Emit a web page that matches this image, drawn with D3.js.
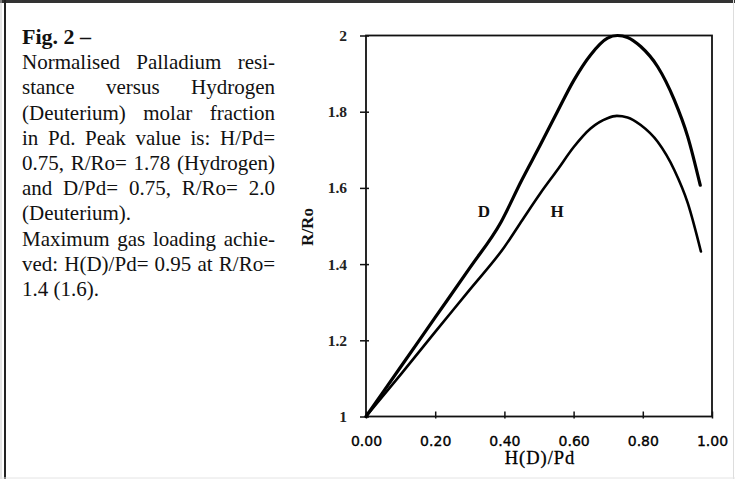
<!DOCTYPE html>
<html>
<head>
<meta charset="utf-8">
<script src="https://cdn.jsdelivr.net/npm/d3@7"></script>
<style>
  html, body { margin: 0; padding: 0; background: #fff; }
  svg { display: block; }
</style>
</head>
<body>
<svg id="fig" width="735" height="479"></svg>
<script>
// Normalised Pd resistance R/Ro versus loading H(D)/Pd
const deuteriumX = [0, 0.10, 0.20, 0.30, 0.39, 0.45, 0.504, 0.553, 0.601, 0.649, 0.698, 0.727, 0.756, 0.794, 0.843, 0.891, 0.930, 0.966];
const deuteriumY = [1, 1.13, 1.26, 1.39, 1.51, 1.62, 1.713, 1.80, 1.883, 1.949, 1.993, 2.0, 1.995, 1.971, 1.918, 1.831, 1.734, 1.607];
const hydrogenX = [0, 0.10, 0.20, 0.30, 0.40, 0.452, 0.504, 0.553, 0.601, 0.649, 0.698, 0.725, 0.756, 0.794, 0.843, 0.891, 0.930, 0.968];
const hydrogenY = [1, 1.11, 1.222, 1.333, 1.445, 1.516, 1.586, 1.647, 1.708, 1.756, 1.783, 1.789, 1.785, 1.765, 1.721, 1.647, 1.560, 1.433];
const xTicks = [0, 0.2, 0.4, 0.6, 0.8, 1.0];
const yTicks = [1, 1.2, 1.4, 1.6, 1.8, 2];
const yTickLabels = ["1", "1.2", "1.4", "1.6", "1.8", "2"];

const captionTitle = "Fig. 2 \u2013";
const captionLines = [
  { text: "Normalised Palladium resi-", justify: true },
  { text: "stance versus Hydrogen", justify: true },
  { text: "(Deuterium) molar fraction", justify: true },
  { text: "in Pd. Peak value is: H/Pd=", justify: true },
  { text: "0.75, R/Ro= 1.78 (Hydrogen)", justify: true },
  { text: "and D/Pd= 0.75, R/Ro= 2.0", justify: true },
  { text: "(Deuterium).", justify: false },
  { text: "Maximum gas loading achie-", justify: true },
  { text: "ved: H(D)/Pd= 0.95 at R/Ro=", justify: true },
  { text: "1.4 (1.6).", justify: false }
];

const svg = d3.select("#fig");
const W = 735, H = 479;

// page frame
svg.append("rect").attr("x", 0).attr("y", 0).attr("width", W).attr("height", H).attr("fill", "#fff");
svg.append("line").attr("x1", 0).attr("x2", W).attr("y1", 1.5).attr("y2", 1.5).attr("stroke", "#333").attr("stroke-width", 3);
svg.append("line").attr("x1", 5).attr("x2", 5).attr("y1", 0).attr("y2", H).attr("stroke", "#222").attr("stroke-width", 2);
svg.append("line").attr("x1", 1).attr("x2", 1).attr("y1", 0).attr("y2", H).attr("stroke", "#ccc").attr("stroke-width", 1);
svg.append("line").attr("x1", W - 1.5).attr("x2", W - 1.5).attr("y1", 0).attr("y2", H).attr("stroke", "#ddd").attr("stroke-width", 1);
svg.append("line").attr("x1", 0).attr("x2", W).attr("y1", H - 1).attr("y2", H - 1).attr("stroke", "#e4e4e4").attr("stroke-width", 1);

// caption text block
const textLeft = 22, textRight = 275, firstBase = 44, lead = 25.2;
const cap = svg.append("g").attr("font-family", "'Liberation Serif', 'Times New Roman', serif").attr("font-size", 21).attr("fill", "#111");
cap.append("text").attr("x", textLeft).attr("y", firstBase).attr("font-weight", "bold").attr("font-size", 22).text(captionTitle);
captionLines.forEach((ln, i) => {
  const t = cap.append("text")
    .attr("x", textLeft)
    .attr("y", firstBase + lead * (i + 1))
    .style("white-space", "pre")
    .text(ln.text);
  if (ln.justify) {
    const natural = t.node().getComputedTextLength();
    const gaps = (ln.text.match(/ /g) || []).length;
    if (gaps > 0) t.style("word-spacing", ((textRight - textLeft - natural) / gaps) + "px");
  }
});

// plot area
const x = d3.scaleLinear().domain([0, 1]).range([366, 712]);
const y = d3.scaleLinear().domain([1, 2]).range([416.5, 35.5]);

svg.append("rect")
  .attr("x", x(0)).attr("y", y(2))
  .attr("width", x(1) - x(0)).attr("height", y(1) - y(2))
  .attr("fill", "none").attr("stroke", "#111").attr("stroke-width", 1.8);

const xAxis = svg.append("g")
  .attr("transform", `translate(0,${y(1)})`)
  .call(d3.axisBottom(x).tickValues(xTicks).tickFormat(d3.format(".2f")).tickSizeOuter(0).tickPadding(14));
xAxis.select(".domain").remove();
xAxis.selectAll(".tick line").attr("y1", -5).attr("y2", 2).attr("stroke", "#111").attr("stroke-width", 1.5);
xAxis.selectAll(".tick text")
  .attr("font-family", "'DejaVu Sans', sans-serif").attr("font-size", 14).attr("fill", "#000")
  .attr("stroke", "#000").attr("stroke-width", 0.35);

const yAxis = svg.append("g")
  .attr("transform", `translate(${x(0)},0)`)
  .call(d3.axisLeft(y).tickValues(yTicks).tickFormat((d, i) => yTickLabels[i]).tickSizeOuter(0).tickPadding(13));
yAxis.select(".domain").remove();
yAxis.selectAll(".tick line").attr("x1", -6).attr("x2", 3).attr("stroke", "#111").attr("stroke-width", 1.5);
yAxis.selectAll(".tick text")
  .attr("font-family", "'Liberation Serif', serif").attr("font-size", 15.5).attr("font-weight", "bold").attr("fill", "#222");

// axis titles
svg.append("text")
  .attr("x", 540).attr("y", 464)
  .attr("text-anchor", "middle")
  .attr("font-family", "'Liberation Serif', serif").attr("font-size", 18.5).attr("letter-spacing", 1)
  .attr("fill", "#000").attr("stroke", "#000").attr("stroke-width", 0.3)
  .text("H(D)/Pd");
svg.append("text")
  .attr("transform", "translate(313,227) rotate(-90)")
  .attr("text-anchor", "middle")
  .attr("font-family", "'Liberation Serif', serif").attr("font-size", 17).attr("font-weight", "bold")
  .attr("fill", "#111")
  .text("R/Ro");

// curves
const line = d3.line().x(d => x(d[0])).y(d => y(d[1])).curve(d3.curveMonotoneX);
const dPts = deuteriumX.map((v, i) => [v, deuteriumY[i]]);
const hPts = hydrogenX.map((v, i) => [v, hydrogenY[i]]);

svg.append("path").attr("d", line(hPts))
  .attr("fill", "none").attr("stroke", "#000").attr("stroke-width", 2.6).attr("stroke-linecap", "round");
svg.append("path").attr("d", line(dPts))
  .attr("fill", "none").attr("stroke", "#000").attr("stroke-width", 3.2).attr("stroke-linecap", "round");

// curve labels
const lab = svg.append("g").attr("font-family", "'Liberation Serif', serif").attr("font-size", 17).attr("font-weight", "bold").attr("fill", "#111").attr("text-anchor", "middle");
lab.append("text").attr("x", 484).attr("y", 217).text("D");
lab.append("text").attr("x", 557).attr("y", 217).text("H");
</script>
</body>
</html>
